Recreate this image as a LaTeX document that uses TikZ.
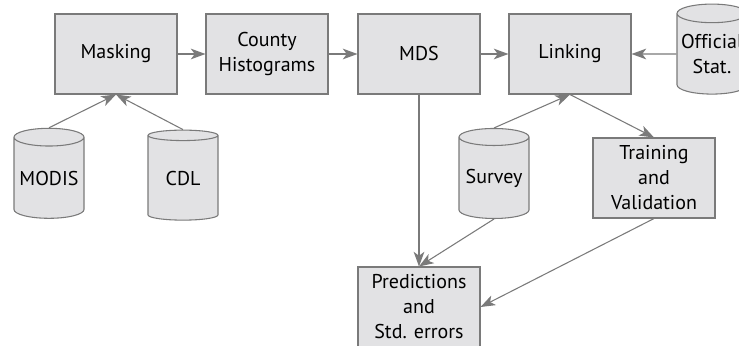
\documentclass[tikz,border=0pt]{standalone}
\usepackage{fontspec}
\setmainfont[Ligatures=NoCommon]{PT Sans}
\usetikzlibrary{shapes.geometric,arrows.meta}
\definecolor{boxfill}{HTML}{E2E2E4}
\definecolor{edgecol}{HTML}{7A7A7A}
\begin{document}
\begin{tikzpicture}[x=0.75pt,y=-0.75pt,
  font=\fontsize{15}{18.75}\selectfont,
  box/.style={draw=edgecol, fill=boxfill, line width=0.8pt, minimum width=91.5pt,
    minimum height=60pt, align=center, inner sep=0pt},
  db/.style={cylinder, shape border rotate=90, aspect=0.3, draw=edgecol, fill=boxfill,
    line width=0.8pt, minimum width=52.5pt, minimum height=67.5pt, align=center, inner sep=0pt},
  arr/.style={draw=edgecol, line width=0.8pt, -{Stealth[length=11pt,width=8pt,inset=3pt]}}]
\useasboundingbox (0,0) rectangle (739,346);
\node[box] (mask) at (116,54) {Masking};
\node[box] (county) at (267,54) {County\\Histograms};
\node[box] (mds) at (419,54) {MDS};
\node[box] (link) at (570,54) {Linking};
\node[db] (off) at (712,54) {Official\\Stat.};
\node[db] (modis) at (49,178) {MODIS};
\node[db] (cdl) at (183,178) {CDL};
\node[db] (survey) at (494,178) {Survey};
\node[box] (train) at (654,178) {Training\\and\\Validation};
\node[box] (pred) at (419,307) {Predictions\\and\\Std. errors};
\draw[arr] (mask) -- (county);
\draw[arr] (county) -- (mds);
\draw[arr] (mds) -- (link);
\draw[arr] (off) -- (link);
\draw[arr] (modis.top) -- (mask.south);
\draw[arr] (cdl.top) -- (mask.south);
\draw[arr] (survey.top) -- (link.south);
\draw[arr] (link.south) -- (train.north);
\draw[arr] (mds.south) -- (pred.north);
\draw[arr] (survey.bottom) -- (pred.north);
\draw[arr] (train.south) -- (pred.east);
\end{tikzpicture}
\end{document}
